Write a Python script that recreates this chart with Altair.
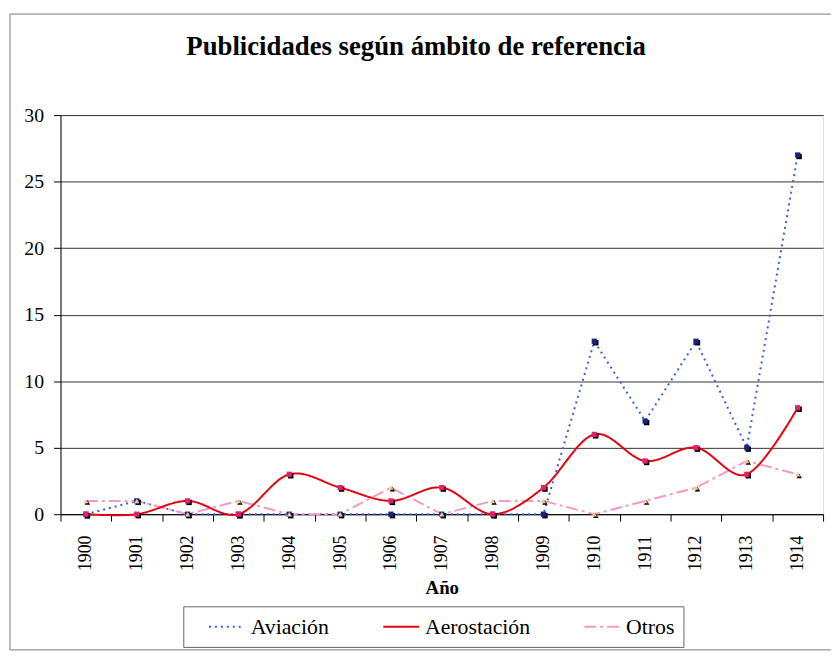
import altair as alt
import pandas as pd

anios = ["1900", "1901", "1902", "1903", "1904", "1905", "1906", "1907",
         "1908", "1909", "1910", "1911", "1912", "1913", "1914"]
series = ["Aviación", "Aerostación", "Otros"]
aviacion = [0, 1, 0, 0, 0, 0, 0, 0, 0, 0, 13, 7, 13, 5, 27]
aerostacion = [0, 0, 1, 0, 3, 2, 1, 2, 0, 2, 6, 4, 5, 3, 8]
otros = [1, 1, 0, 1, 0, 0, 2, 0, 1, 1, 0, 1, 2, 4, 3]
y_ticks = [0, 5, 10, 15, 20, 25, 30]

rows = []
for nombre, vals in zip(series, [aviacion, aerostacion, otros]):
    for a, v in zip(anios, vals):
        rows.append({"anio": a, "serie": nombre, "valor": v})
df = pd.DataFrame(rows)

FONT = "Liberation Serif"
W, H = 770, 403

x_enc = alt.X(
    "anio:O",
    scale=alt.Scale(type="band", paddingInner=0, paddingOuter=0, domain=anios),
    axis=alt.Axis(
        title="Año", tickBand="extent", labelAngle=270, labelAlign="right",
        labelBaseline="middle", labelPadding=14, tickSize=7, grid=False,
        titlePadding=8, titleFontWeight="bold", titleFontSize=19,
        labelFontSize=18, domainColor="black", tickColor="black",
        labelFont=FONT, titleFont=FONT, labelColor="black", titleColor="black",
    ),
)
y_enc = alt.Y(
    "valor:Q",
    scale=alt.Scale(domain=[0, 30], nice=False),
    axis=alt.Axis(
        title=None, values=y_ticks, tickSize=7, labelPadding=10,
        gridColor="#333333", domainColor="black", tickColor="black",
        labelFontSize=20, labelFont=FONT, labelColor="black",
    ),
)

color_scale = alt.Scale(domain=series, range=["#3a5fdc", "#e8000e", "#f49ac0"])
dash_scale = alt.Scale(domain=series, range=[[2, 4], [1, 0], [12, 4, 3, 4]])
legend = alt.Legend(
    title=None, orient="none", legendX=124, legendY=496, direction="horizontal",
    symbolType="M0.52,0H3.95", symbolSize=441, symbolStrokeWidth=2,
    labelOffset=36, columnPadding=37, padding=9, strokeColor="#666666",
    labelFontSize=22, labelFont=FONT, labelColor="black",
    labelExpr="datum.label == 'Otros' ? 'Otros\u00a0\u00a0\u00a0' : datum.label",
)

base = alt.Chart(df)

frame = alt.Chart(pd.DataFrame({"k": [0]})).mark_rect(
    filled=False, stroke="#777777", strokeWidth=1
).encode(
    x=alt.value(-51), x2=alt.value(790), y=alt.value(-102), y2=alt.value(540)
)

lineas_rectas = base.transform_filter(
    alt.FieldOneOfPredicate(field="serie", oneOf=["Aviación", "Otros"])
).mark_line(strokeWidth=2, interpolate="linear").encode(
    x=x_enc, y=y_enc,
    color=alt.Color("serie:N", scale=color_scale, legend=legend),
    strokeDash=alt.StrokeDash("serie:N", scale=dash_scale, legend=legend),
)

linea_suave = base.transform_filter(
    alt.datum.serie == "Aerostación"
).mark_line(strokeWidth=2, interpolate="cardinal").encode(
    x=x_enc, y=y_enc,
    color=alt.Color("serie:N", scale=color_scale, legend=legend),
    strokeDash=alt.StrokeDash("serie:N", scale=dash_scale, legend=legend),
)

formas = ["p " + s for s in series]
puntos = base.transform_calculate(forma="'p ' + datum.serie")

shape_enc = alt.Shape("forma:N",
                      scale=alt.Scale(domain=formas, range=["square", "square", "triangle-up"]),
                      legend=None)

sombras = puntos.mark_point(filled=True, size=30, opacity=1, xOffset=1.5, yOffset=1.5,
                            color="black").encode(x=x_enc, y=y_enc, shape=shape_enc)

marcas = puntos.mark_point(filled=True, size=28, opacity=1).encode(
    x=x_enc, y=y_enc, shape=shape_enc,
    fill=alt.Fill("forma:N",
                  scale=alt.Scale(domain=formas, range=["#1a237e", "#e0206a", "#f0c890"]),
                  legend=None),
)

chart = alt.layer(frame, lineas_rectas, linea_suave, sombras, marcas).properties(
    width=W, height=H,
    autosize=alt.AutoSizeParams(type="none"),
    padding={"left": 53, "top": 105, "right": 8, "bottom": 135},
    title=alt.Title(
        "Publicidades según ámbito de referencia", font=FONT, fontSize=27,
        fontWeight="bold", anchor="middle", frame="group", dx=-26, offset=-48,
        color="black",
    ),
).configure_view(stroke=None).configure(background="white")

chart.save("out.html", embed_options={"renderer": "svg", "actions": False})
